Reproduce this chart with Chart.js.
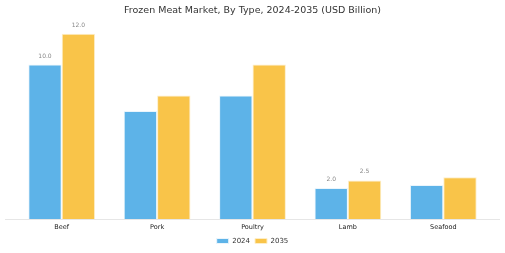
<!DOCTYPE html>
<html>
<head>
<meta charset="utf-8">
<script src="https://cdn.jsdelivr.net/npm/chart.js@4"></script>
<style>
  html, body { margin: 0; padding: 0; background: #fff; }
  #wrap { width: 505px; height: 253px; }
</style>
</head>
<body>
<div id="wrap"><canvas id="myChart"></canvas></div>
<script>
const categories = ["Beef", "Pork", "Poultry", "Lamb", "Seafood"];
const values2024 = [10.0, 7.0, 8.0, 2.0, 2.2];
const values2035 = [12.0, 8.0, 10.0, 2.5, 2.7];
// only these bars carry a value label in the original
const labelledBars = [0, 3];

const valueLabels = {
  id: "valueLabels",
  afterDatasetsDraw(chart) {
    const ctx = chart.ctx;
    ctx.save();
    ctx.font = "6px 'DejaVu Sans'";
    ctx.fillStyle = "#888";
    ctx.textAlign = "center";
    ctx.textBaseline = "alphabetic";
    chart.data.datasets.forEach((ds, di) => {
      const meta = chart.getDatasetMeta(di);
      meta.data.forEach((bar, i) => {
        if (!labelledBars.includes(i)) return;
        ctx.fillText(ds.data[i].toFixed(1), bar.x, bar.y - 7);
      });
    });
    ctx.restore();
  },
};

// baseline runs a bit wider than the category bins
const baseLine = {
  id: "baseLine",
  beforeDatasetsDraw(chart) {
    const { ctx, chartArea } = chart;
    ctx.save();
    ctx.strokeStyle = "#e6e6e6";
    ctx.lineWidth = 1;
    ctx.beginPath();
    ctx.moveTo(5, chartArea.bottom + 0.5);
    ctx.lineTo(500, chartArea.bottom + 0.5);
    ctx.stroke();
    ctx.restore();
  },
};

const data = {
  labels: categories,
  datasets: [
    {
      label: "2024",
      data: values2024,
      backgroundColor: "#5db3e8",
      borderColor: "#eaf5fc",
      borderWidth: 1,
    },
    {
      label: "2035",
      data: values2035,
      backgroundColor: "#f9c449",
      borderColor: "#fdeec8",
      borderWidth: 1,
    },
  ],
};

const config = {
  type: "bar",
  data: data,
  options: {
    responsive: true,
    maintainAspectRatio: false,
    animation: false,
    layout: { padding: { left: 14, right: 14, top: 0, bottom: -1.5 } },
    datasets: {
      bar: { barPercentage: 1.0, categoryPercentage: 0.7 },
    },
    scales: {
      x: {
        grid: { display: false, drawTicks: true, tickLength: 3, tickColor: "#bbb" },
        border: { display: false },
        ticks: { color: "#222", font: { size: 6.5, family: "'DejaVu Sans'" }, padding: 1 },
        afterFit(scale) { scale.height = 13.5; },
      },
      y: {
        display: false,
        min: 0,
        max: 12.6,
      },
    },
    plugins: {
      title: {
        display: true,
        text: "Frozen Meat Market, By Type, 2024-2035 (USD Billion)",
        color: "#333",
        font: { size: 9.5, weight: "normal", family: "'DejaVu Sans'" },
        padding: { top: 5, bottom: 8 },
      },
      legend: {
        position: "bottom",
        labels: {
          color: "#333",
          boxWidth: 12,
          boxHeight: 5,
          padding: 5,
          font: { size: 7, family: "'DejaVu Sans'" },
        },
      },
      tooltip: { enabled: false },
    },
  },
  plugins: [valueLabels, baseLine],
};

const myChart = new Chart(document.getElementById("myChart"), config);
</script>
</body>
</html>
